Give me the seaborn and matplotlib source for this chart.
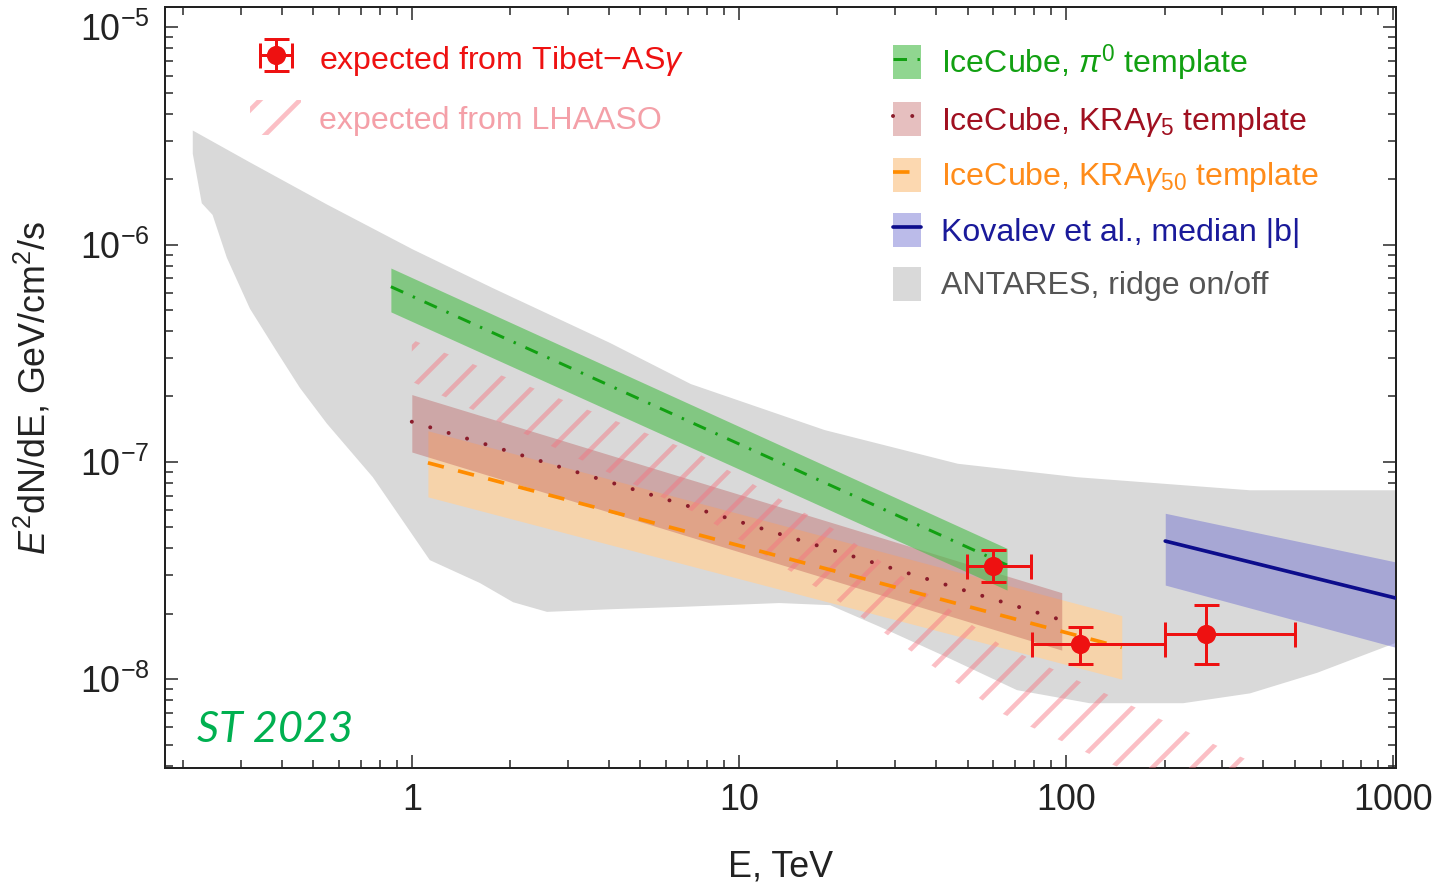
import numpy as np
import matplotlib
matplotlib.use("Agg")
import matplotlib.pyplot as plt
import seaborn as sns
from matplotlib.patches import Patch
from matplotlib.lines import Line2D
from matplotlib.ticker import NullFormatter

sns.set_theme(style="ticks")
plt.rcParams["font.family"] = ["Liberation Sans", "DejaVu Sans"]
plt.rcParams["mathtext.fontset"] = "custom"
plt.rcParams["mathtext.rm"] = "Liberation Sans"
plt.rcParams["mathtext.it"] = "Liberation Sans:italic"
plt.rcParams["mathtext.default"] = "regular"
plt.rcParams["hatch.linewidth"] = 2.8

# ANTARES ridge on/off (grey area): upper and lower edge
antares_E_up = [0.214, 0.320, 0.550, 1.007, 1.77, 4.03, 7.13, 18.3, 46.7, 108, 365, 1020]
antares_up = [3.35e-6, 2.39e-6, 1.53e-6, 9.5e-7, 6.3e-7, 3.53e-7, 2.28e-7, 1.40e-7, 9.8e-8, 8.5e-8, 7.4e-8, 7.4e-8]
antares_E_lo = [0.214, 0.228, 0.246, 0.272, 0.320, 0.387, 0.455, 0.550, 0.760, 1.135, 1.615, 2.04,
                2.59, 4.12, 6.6, 13.3, 19.0, 27.0, 43.3, 70.8, 118, 228, 365, 586, 1020]
antares_lo = [2.62e-6, 1.55e-6, 1.37e-6, 8.7e-7, 5.07e-7, 3.21e-7, 2.19e-7, 1.50e-7, 8.5e-8, 3.53e-8, 2.77e-8, 2.26e-8,
              2.04e-8, 2.10e-8, 2.15e-8, 2.24e-8, 2.19e-8, 1.74e-8, 1.26e-8, 8.9e-9, 7.75e-9, 7.75e-9, 8.6e-9, 1.07e-8, 1.47e-8]

# IceCube, pi0 template
pi0_E = [0.863, 66.0]
pi0_mid = [6.4e-7, 3.35e-8]
pi0_lo = [4.9e-7, 2.57e-8]
pi0_hi = [7.8e-7, 4.0e-8]

# IceCube, KRAgamma5 template
kra5_E = [1.0, 97.0]
kra5_mid = [1.53e-7, 1.87e-8]
kra5_lo = [1.11e-7, 1.36e-8]
kra5_hi = [2.04e-7, 2.5e-8]

# IceCube, KRAgamma50 template
kra50_E = [1.12, 148.0]
kra50_mid = [9.9e-8, 1.40e-8]
kra50_lo = [6.9e-8, 1.0e-8]
kra50_hi = [1.39e-7, 1.96e-8]

# Kovalev et al., median |b|
kov_E = [201.0, 1020.0]
kov_mid = [4.32e-8, 2.36e-8]
kov_lo = [2.71e-8, 1.40e-8]
kov_hi = [5.8e-8, 3.46e-8]

# expected from LHAASO (hatched)
lhaaso_E = [1.0, 7.6, 20, 63, 146, 420, 600]
lhaaso_lo = [2.34e-7, 5.7e-8, 2.3e-8, 7.0e-9, 3.9e-9, 1.9e-9, 1.47e-9]
lhaaso_hi = [3.65e-7, 1.08e-7, 4.8e-8, 1.44e-8, 8.0e-9, 3.8e-9, 2.9e-9]

# expected from Tibet-ASgamma
tibet_E = [59.8, 110.0, 268.0]
tibet_E_lo = [49.8, 78.7, 201.0]
tibet_E_hi = [78.2, 201.0, 501.0]
tibet_F = [3.32e-8, 1.45e-8, 1.61e-8]
tibet_F_lo = [2.80e-8, 1.17e-8, 1.17e-8]
tibet_F_hi = [3.93e-8, 1.74e-8, 2.19e-8]

x_ticks = [1, 10, 100, 1000]
x_ticklabels = ["1", "10", "100", "1000"]
y_ticks = [1e-8, 1e-7, 1e-6, 1e-5]
y_ticklabels = [r"$10^{-8}$", r"$10^{-7}$", r"$10^{-6}$", r"$10^{-5}$"]

c_grey = "#d9d9d9"
c_green_band, c_green = "#4dbd4d", "#12a012"
c_kra5_band, c_kra5 = "#b84a4a", "#8b1c2b"
c_kra50_band, c_kra50 = "#fcd2a2", "#ff8c00"
c_kov_band, c_kov = "#6a6ad0", "#0d0d8c"
c_hatch = (0.97, 0.45, 0.5, 0.45)
c_red = "#ee1111"

fig = plt.figure(figsize=(1435 / 120, 883 / 120), dpi=120)
ax = fig.add_axes([165 / 1435, 1 - 768 / 883, 1231 / 1435, 761 / 883])
ax.set_xscale("log")
ax.set_yscale("log")

ax.fill(np.concatenate([antares_E_up, antares_E_lo[::-1]]),
        np.concatenate([antares_up, antares_lo[::-1]]),
        color=c_grey, lw=0, zorder=1)

ax.fill_between(kra50_E, kra50_lo, kra50_hi, color=c_kra50_band, alpha=0.85, lw=0, zorder=2)
ax.fill_between(kra5_E, kra5_lo, kra5_hi, color=c_kra5_band, alpha=0.35, lw=0, zorder=2)
ax.fill_between(pi0_E, pi0_lo, pi0_hi, color=c_green_band, alpha=0.62, lw=0, zorder=2)
ax.fill_between(kov_E, kov_lo, kov_hi, color=c_kov_band, alpha=0.45, lw=0, zorder=2)
ax.fill_between(lhaaso_E, lhaaso_lo, lhaaso_hi, facecolor="none", edgecolor=c_hatch,
                hatch="/", lw=0, zorder=3)

ls_pi0 = (0, (4.5, 3.5, 0.8, 3.5))
ls_kra5 = (0, (0.01, 4.8))
ls_kra50 = (0, (4.5, 4.0))
sns.lineplot(x=pi0_E, y=pi0_mid, ax=ax, color=c_green, lw=1.8, linestyle=ls_pi0, zorder=4)
sns.lineplot(x=kra5_E, y=kra5_mid, ax=ax, color=c_kra5, lw=2.4, linestyle=ls_kra5,
             dash_capstyle="round", zorder=4)
sns.lineplot(x=kra50_E, y=kra50_mid, ax=ax, color=c_kra50, lw=2.2, linestyle=ls_kra50, zorder=4)
sns.lineplot(x=kov_E, y=kov_mid, ax=ax, color=c_kov, lw=2.2, zorder=4)

tE = np.array(tibet_E)
tF = np.array(tibet_F)
xerr = [tE - np.array(tibet_E_lo), np.array(tibet_E_hi) - tE]
yerr = [tF - np.array(tibet_F_lo), np.array(tibet_F_hi) - tF]
eb = ax.errorbar(tE, tF, xerr=xerr, yerr=yerr, fmt="o", color=c_red, ms=10.5,
                 elinewidth=1.8, capsize=7.5, capthick=1.8, zorder=10)

ax.set_xlim(0.176, 1020)
ax.set_ylim(3.9e-9, 1.24e-5)
ax.set_xticks(x_ticks, x_ticklabels)
ax.set_yticks(y_ticks, y_ticklabels)
ax.xaxis.set_minor_formatter(NullFormatter())
ax.yaxis.set_minor_formatter(NullFormatter())
ax.tick_params(which="both", direction="in", top=True, right=True, colors="#222222",
               width=0.9, labelsize=21.5)
ax.tick_params(which="major", length=7.8)
ax.tick_params(which="minor", length=4.8)
ax.tick_params(axis="y", pad=9)
ax.tick_params(axis="x", pad=9)
for s in ax.spines.values():
    s.set_color("#222222")
    s.set_linewidth(1.2)

ax.set_xlabel("E, TeV", fontsize=21.5, color="#222222", labelpad=19)
ax.set_ylabel(r"$\mathit{E}^2$dN/dE, GeV/cm$^2$/s", fontsize=21.5, color="#222222", labelpad=16)

# left legend
hatch_handle = Patch(facecolor="none", edgecolor=c_hatch, hatch="/", lw=0)
leg1 = ax.legend([eb, hatch_handle],
                 [r"expected from Tibet$-$AS$\mathit{\gamma}$", "expected from LHAASO"],
                 loc="upper left", bbox_to_anchor=(0.069, 0.956), frameon=False,
                 fontsize=19.3, handlelength=1.6, handleheight=1.3, labelspacing=0.7,
                 handletextpad=0.55, borderpad=0, borderaxespad=0)
for t, c in zip(leg1.get_texts(), [c_red, "#f4a0a8"]):
    t.set_color(c)
ax.add_artist(leg1)

# right legend
h_pi0 = (Patch(color=c_green_band, alpha=0.62, lw=0), Line2D([], [], color=c_green, lw=1.8, linestyle=ls_pi0))
h_kra5 = (Patch(color=c_kra5_band, alpha=0.35, lw=0), Line2D([], [], color=c_kra5, lw=2.4, linestyle=ls_kra5, dash_capstyle="round"))
h_kra50 = (Patch(color=c_kra50_band, alpha=0.85, lw=0), Line2D([], [], color=c_kra50, lw=2.2, linestyle=ls_kra50))
h_kov = (Patch(color=c_kov_band, alpha=0.45, lw=0), Line2D([], [], color=c_kov, lw=2.2))
h_ant = Patch(color=c_grey, lw=0)
labels2 = [r"IceCube, $\mathit{\pi}^0$ template",
           r"IceCube, KRA$\mathit{\gamma}_5$ template",
           r"IceCube, KRA$\mathit{\gamma}_{50}$ template",
           "Kovalev et al., median |b|",
           "ANTARES, ridge on/off"]
leg2 = ax.legend([h_pi0, h_kra5, h_kra50, h_kov, h_ant], labels2,
                 loc="upper left", bbox_to_anchor=(0.591, 0.954), frameon=False,
                 fontsize=19.3, handlelength=0.9, handleheight=1.25, labelspacing=0.58,
                 handletextpad=0.62, borderpad=0, borderaxespad=0)
for t, c in zip(leg2.get_texts(), [c_green, "#a01020", "#ff8c1a", "#1a1a9a", "#555555"]):
    t.set_color(c)

ax.text(0.026, 0.034, "ST 2023", transform=ax.transAxes, color="#00b050", fontsize=26,
        fontstyle="italic", family=["Lato", "DejaVu Sans"], zorder=11)

fig.savefig("out.png", dpi=120)
